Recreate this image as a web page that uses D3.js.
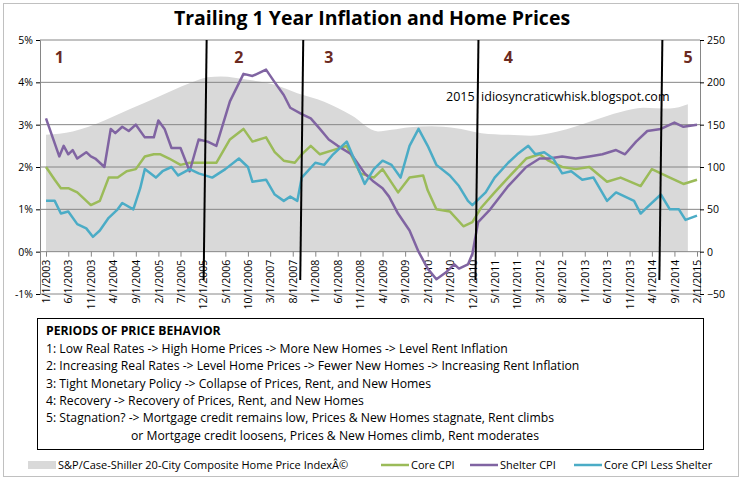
<!DOCTYPE html>
<html><head><meta charset="utf-8">
<script src="https://cdn.jsdelivr.net/npm/d3@7.9.0/dist/d3.min.js"></script>
<style>body{margin:0;background:#fff;font-family:"Open Sans",sans-serif}</style>
</head><body><svg id="chart" width="743" height="480"></svg>
<script>
// months are counted from Jan 2003
const homeMonths = [0,6,13,19,25,32,36,39,45,51,56,62,68,74,77,81,86,91,97,103,108,114,122,128,133,139,143];
const homeIndex = [138,142,155,169,183,199,206,207,203,197,187,177,161,142,144,147,148,146,140,138,137,142,155,165,170,169,174];

const shelterMonths = [0,1.5,3,4,5,6,7,9,10,11,13,14.5,15.5,17,18.5,20,22,24,25,26.5,28,30,32,34,36,38,41,44,46,49,51,53,54.5,57,59,61,63,65,68,71,73,75,76.5,78.5,81,83,85,87,89,91,92,94,95,96.3,99,103,107,110,112,115,118,121,124,127,129,131.5,134,137,140,142,145];
const shelterCPI = [3.15,2.7,2.25,2.5,2.3,2.4,2.2,2.35,2.25,2.2,2.0,2.9,2.8,2.95,2.85,3.0,2.7,2.7,3.1,2.9,2.45,2.45,1.9,2.65,2.6,2.5,3.55,4.2,4.15,4.3,4.0,3.7,3.4,3.25,3.15,2.9,2.65,2.5,2.3,1.85,1.65,1.5,1.3,0.9,0.5,0.0,-0.4,-0.65,-0.5,-0.3,-0.4,-0.3,-0.05,0.7,1.0,1.55,2.0,2.2,2.2,2.25,2.2,2.25,2.3,2.4,2.3,2.6,2.85,2.9,3.05,2.95,3.0];

const coreMonths = [0,2,3.4,5,7,8,10,12,14,16,18,20,22,24,25.5,27.5,30,32,35,38,41,44,46,49,51,53,55.5,57,59,61,64,67,70,73,75,78.5,81,84,85,87,90,93,95,97,100,103,107,110,112,115,118,121,125,128,132.5,135,139,142,145];
const coreCPI = [2.0,1.7,1.5,1.5,1.4,1.3,1.1,1.2,1.75,1.75,1.9,1.95,2.25,2.3,2.3,2.2,2.05,2.1,2.1,2.1,2.65,2.9,2.6,2.7,2.35,2.15,2.1,2.3,2.5,2.3,2.4,2.5,1.85,1.75,1.95,1.4,1.75,1.8,1.45,1.0,0.95,0.6,0.7,1.05,1.4,1.75,2.2,2.3,2.15,2.0,1.95,2.0,1.65,1.75,1.55,1.95,1.75,1.6,1.7];

const lessMonths = [0,2,3.4,5,7,9,10.5,12,14,16,17,19.5,21,22,24.5,26,28,29.5,32,34,37,40,43,45,46,49,51,53,54.5,56,57,60,62,64,67,69,71,73,75,77,79,81,83,85,87,90,92,94,95,98,100,103,105,107.5,109,111,113,115,117,119.5,122,125,127,131,132.5,134,137,139,141,142.5,145];
const coreLessShelter = [1.2,1.2,0.9,0.95,0.65,0.55,0.35,0.5,0.8,1.0,1.15,1.0,1.5,1.95,1.75,1.9,2.0,1.8,1.95,1.85,1.75,1.95,2.2,2.0,1.65,1.7,1.35,1.2,1.3,1.2,1.75,2.1,2.05,2.3,2.6,2.1,1.6,1.95,2.15,2.05,1.75,2.5,2.9,2.5,2.05,1.8,1.55,1.2,1.1,1.4,1.75,2.1,2.3,2.5,2.3,2.35,2.2,1.85,1.9,1.7,1.75,1.2,1.4,1.2,0.9,1.05,1.35,1.0,1.0,0.75,0.85];

const periodLines = [35.5, 57, 96, 137];
const periodLabels = [{n:"1",m:2},{n:"2",m:42},{n:"3",m:62},{n:"4",m:102},{n:"5",m:142}];
const leftTicks = [-1,0,1,2,3,4,5];
const rightTicks = [-50,0,50,100,150,200,250];
const boxLines = [
  "1: Low Real Rates -> High Home Prices -> More New Homes -> Level Rent Inflation",
  "2: Increasing Real Rates -> Level Home Prices -> Fewer New Homes -> Increasing Rent Inflation",
  "3: Tight Monetary Policy -> Collapse of Prices, Rent, and New Homes",
  "4: Recovery -> Recovery of Prices, Rent, and New Homes",
  "5: Stagnation? -> Mortgage credit remains low, Prices & New Homes stagnate, Rent climbs",
  "or Mortgage credit loosens, Prices & New Homes climb, Rent moderates"
];

const FONT = '"Open Sans",sans-serif';
const svg = d3.select('#chart').attr('font-family', FONT);
const monthDate = m => new Date(2003, Math.floor(m), 1 + Math.round((m % 1) * 28));

svg.append('rect').attr('x',3.5).attr('y',3.5).attr('width',735).attr('height',473)
  .attr('fill','#fff').attr('stroke','#c0c0c0');

const x = d3.scaleTime().domain([new Date(2003,0,1), new Date(2015,1,1)]).range([46, 697]);
const y = d3.scaleLinear().domain([-1, 5]).range([294, 40]);
const y2 = d3.scaleLinear().domain([-50, 250]).range([294, 40]);

// home price area
const homeData = homeMonths.map((m,i) => ({d: monthDate(m), v: homeIndex[i]}));
svg.append('path').datum(homeData)
  .attr('fill','#d9d9d9')
  .attr('d', d3.area().x(d => x(d.d)).y0(y2(0)).y1(d => y2(d.v)).curve(d3.curveMonotoneX));

// gridlines
svg.append('g').selectAll('line').data(leftTicks).join('line')
  .attr('x1',40).attr('x2',700).attr('y1',d=>y(d)).attr('y2',d=>y(d))
  .attr('stroke','#868686').attr('stroke-width',1);

// axes
svg.append('g').attr('transform','translate(40,0)')
  .call(d3.axisLeft(y).tickValues(leftTicks).tickFormat(d => d + '%').tickSize(4))
  .call(g => g.select('.domain').attr('stroke','#868686'))
  .call(g => g.selectAll('text').attr('font-size',10.5).attr('fill','#000').attr('font-family',FONT));
svg.append('g').attr('transform','translate(700,0)')
  .call(d3.axisRight(y2).tickValues(rightTicks).tickSize(4))
  .call(g => g.select('.domain').attr('stroke','#868686'))
  .call(g => g.selectAll('text').attr('font-size',10.5).attr('fill','#000').attr('font-family',FONT));

const xTicks = d3.range(0, 146, 5).map(m => new Date(2003, m, 1));
svg.append('g').attr('transform',`translate(0,${y(0)})`)
  .call(d3.axisBottom(x).tickValues(xTicks).tickSize(5)
    .tickFormat(d => `${d.getMonth()+1}/1/${d.getFullYear()}`))
  .call(g => g.select('.domain').remove())
  .call(g => g.selectAll('line').attr('stroke','#868686'))
  .call(g => g.selectAll('text').attr('font-size',10.5).attr('fill','#000')
    .attr('font-family',FONT).attr('text-anchor','end')
    .attr('transform','translate(0,8) rotate(-90)').attr('x',0).attr('y',0).attr('dy','0.35em'));

// lines
const line = d3.line().x(d => x(d.d)).y(d => y(d.v));
const series = [
  {m: coreMonths, v: coreCPI, c: '#9bbb59'},
  {m: shelterMonths, v: shelterCPI, c: '#8064a2'},
  {m: lessMonths, v: coreLessShelter, c: '#4bacc6'}
];
series.forEach(s => {
  svg.append('path').datum(s.m.map((m,i) => ({d: monthDate(m), v: s.v[i]})))
    .attr('fill','none').attr('stroke', s.c).attr('stroke-width',2.5)
    .attr('stroke-linejoin','round').attr('d', line);
});

// period dividers
svg.append('g').selectAll('line').data(periodLines).join('line')
  .attr('x1', m => x(monthDate(m))+1.5).attr('x2', m => x(monthDate(m))-1.5)
  .attr('y1', 40).attr('y2', 280).attr('stroke','#000').attr('stroke-width',2);

svg.append('g').selectAll('text').data(periodLabels).join('text')
  .attr('x', d => x(monthDate(d.m))).attr('y', 63)
  .attr('font-size',16).attr('font-weight','bold').attr('fill','#6b2a1f')
  .text(d => d.n);

svg.append('text').attr('x',446).attr('y',101).attr('font-size',12.5)
  .text('2015\u00a0\u00a0idiosyncraticwhisk.blogspot.com');

// title
svg.append('text').attr('x',372).attr('y',25).attr('text-anchor','middle')
  .attr('font-size',19.5).attr('font-weight','bold')
  .text('Trailing 1 Year Inflation and Home Prices');

// text box
svg.append('rect').attr('x',37.5).attr('y',318.5).attr('width',666).attr('height',131)
  .attr('fill','#fff').attr('stroke','#000');
const tb = svg.append('g').attr('font-size',12.2);
tb.append('text').attr('x',46).attr('y',335).attr('font-weight','bold').text('PERIODS OF PRICE BEHAVIOR');
tb.selectAll('.bl').data(boxLines).join('text').attr('class','bl')
  .attr('x',(d,i) => i === 5 ? 131 : 46).attr('y',(d,i) => 353 + i*17.3).text(d => d);

// legend
const legend = [
  {t:'S&P/Case-Shiller 20-City Composite Home Price IndexÂ©', c:'#d9d9d9', area:true, x:28},
  {t:'Core CPI', c:'#9bbb59', x:381},
  {t:'Shelter CPI', c:'#8064a2', x:470},
  {t:'Core CPI Less Shelter', c:'#4bacc6', x:574}
];
const lg = svg.append('g').attr('font-size',11);
legend.forEach(l => {
  if (l.area) lg.append('rect').attr('x',l.x).attr('y',461).attr('width',28).attr('height',8).attr('fill',l.c);
  else lg.append('line').attr('x1',l.x).attr('x2',l.x+28).attr('y1',465).attr('y2',465).attr('stroke',l.c).attr('stroke-width',2.5);
  lg.append('text').attr('x',l.x+30).attr('y',469).text(l.t);
});
</script></body></html>
